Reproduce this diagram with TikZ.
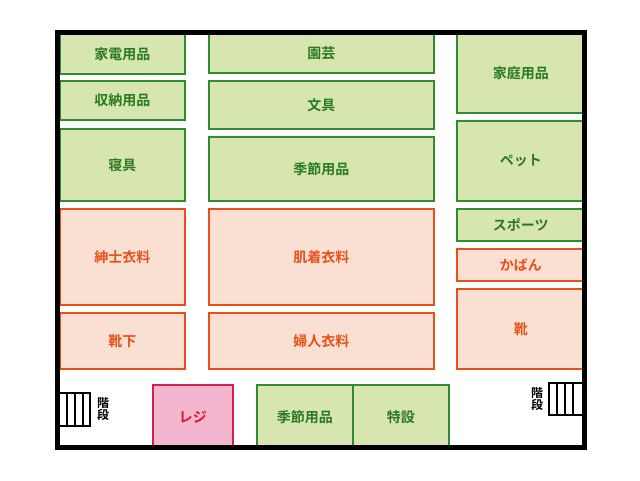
\documentclass[tikz,border=0pt]{standalone}
\usepackage{fontspec}
\setmainfont{Noto Sans CJK JP}[BoldFont={* Bold}]
\definecolor{gfill}{HTML}{D7E6B1}
\definecolor{gline}{HTML}{2E8B2E}
\definecolor{gtext}{HTML}{2A7A22}
\definecolor{ofill}{HTML}{FAE0D2}
\definecolor{oline}{HTML}{E8501A}
\definecolor{pfill}{HTML}{F4B5CE}
\definecolor{pline}{HTML}{D4204E}
\definecolor{ptext}{HTML}{E8102A}
\begin{document}
\begin{tikzpicture}[
    x=1pt,y=-1pt,
    font=\bfseries\fontsize{14}{16}\selectfont
  ]
\tikzset{
  area/.style={anchor=north west,line width=1.6pt,inner sep=0pt},
  gbox/.style={area,draw=gline,fill=gfill,text=gtext},
  obox/.style={area,draw=oline,fill=ofill,text=oline},
  pbox/.style={area,draw=pline,fill=pfill,text=ptext},
  stair/.style={draw,line width=1.6pt,fill=white},
  stairlabel/.style={font=\bfseries\fontsize{12}{11}\selectfont,align=center,inner sep=0pt},
  wall/.style={draw,line width=5pt}
}
\useasboundingbox (0,0) rectangle (640,480);

% left column
\node[gbox,minimum width=125,minimum height=40] (kaden) at (59,33) {家電用品};
\node[gbox,minimum width=125,minimum height=39] (shuno) at (59,80) {収納用品};
\node[gbox,minimum width=125,minimum height=72] (shingu) at (59,128) {寝具};
\node[obox,minimum width=125,minimum height=96] (shinshi) at (59,208) {紳士衣料};
\node[obox,minimum width=125,minimum height=56] (kutsushita) at (59,312) {靴下};

% middle column
\node[gbox,minimum width=225,minimum height=39] (engei) at (208,33) {園芸};
\node[gbox,minimum width=225,minimum height=48] (bungu) at (208,80) {文具};
\node[gbox,minimum width=225,minimum height=64] (kisetsu1) at (208,136) {季節用品};
\node[obox,minimum width=225,minimum height=96] (hadagi) at (208,208) {肌着衣料};
\node[obox,minimum width=225,minimum height=56] (fujin) at (208,312) {婦人衣料};

% right column
\node[gbox,minimum width=128,minimum height=79] (katei) at (456,33) {家庭用品};
\node[gbox,minimum width=128,minimum height=80] (pet) at (456,120) {ペット};
\node[gbox,minimum width=128,minimum height=32] (sports) at (456,208) {スポーツ};
\node[obox,minimum width=128,minimum height=32] (kaban) at (456,248) {かばん};
\node[obox,minimum width=128,minimum height=80] (kutsu) at (456,288) {靴};

% bottom row
\node[pbox,minimum width=80,minimum height=64] (reji) at (152,384) {レジ};
\node[gbox,minimum width=96,minimum height=64] (kisetsu2) at (256,384) {季節用品};
\node[gbox,minimum width=96,minimum height=64] (tokusetsu) at (352,384) {特設};

% stairs
\draw[stair] (57,393) rectangle (90,426);
\foreach \x in {67,75,83} \draw[line width=1.6pt] (\x,393) -- (\x,426);
\node[stairlabel] (kaidan1) at (103,409) {階\\段};
\draw[stair] (549,383) rectangle (584,415);
\foreach \x in {557,565,573} \draw[line width=1.6pt] (\x,383) -- (\x,415);
\node[stairlabel] (kaidan2) at (537,399) {階\\段};

% outer wall
\draw[wall] (57,32) rectangle (584,447);
\end{tikzpicture}
\end{document}
